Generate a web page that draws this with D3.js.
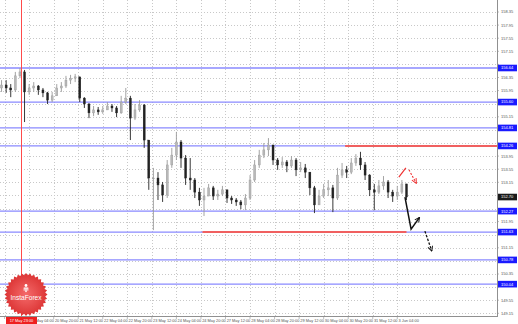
<!DOCTYPE html>
<html>
<head>
<meta charset="utf-8">
<script src="https://cdn.jsdelivr.net/npm/d3@7"></script>
<style>
  body { margin: 0; background: #fff; }
  svg { display: block; }
  text { font-family: "Liberation Sans", Arial, sans-serif; }
</style>
</head>
<body>
<svg id="chart" width="518" height="324"></svg>
<script>
"use strict";

// right price scale
var priceTicks = ["158.35","157.95","157.55","157.15","156.75","156.35","155.95","155.55",
                  "155.15","154.75","154.35","153.95","153.55","153.15","152.75","152.35",
                  "151.95","151.55","151.15","150.75","150.35","149.95","149.55","149.15"];
// time axis, one label every 16 hours starting 17 May 12:00
var timeLabels = ["17 May 12:00","20 May 04:00","20 May 20:00","21 May 12:00","22 May 04:00",
                  "22 May 20:00","23 May 12:00","24 May 04:00","24 May 20:00","27 May 12:00",
                  "28 May 04:00","28 May 20:00","29 May 12:00","30 May 04:00","30 May 20:00",
                  "31 May 12:00","3 Jun 04:00"];
var labelStep = 16;
var barHours = 3;

// candles (3 hour bars), open = previous close
var firstOpen = 156.03;
var closes = [156.12,156.03,155.97,156.40,156.52,155.91,156.03,156.09,155.97,155.88,
              155.66,155.79,156.03,156.09,156.27,156.33,156.37,155.72,155.54,155.27,
              155.36,155.30,155.36,155.48,155.42,155.27,155.60,155.72,155.11,155.36,
              155.51,154.44,153.28,153.28,153.07,152.76,153.68,153.98,154.38,153.89,
              153.28,153.22,152.85,152.61,152.73,152.98,152.73,152.79,152.92,152.67,
              152.61,152.55,152.46,152.67,153.22,153.68,153.98,154.14,154.29,153.83,
              153.68,153.77,153.65,153.83,153.53,153.59,153.46,152.98,152.46,152.73,
              152.92,152.98,152.67,153.37,153.53,153.46,153.74,153.89,153.68,153.37,
              152.92,152.85,153.04,153.16,152.85,152.73,152.85,153.10,152.70];
var highs  = [156.27,156.27,156.15,156.52,156.64,156.58,156.15,156.21,156.12,156.03,
              155.91,155.91,156.15,156.21,156.40,156.43,156.46,156.33,155.75,155.57,
              155.48,155.45,155.48,155.60,155.54,155.48,155.79,156.03,155.79,155.54,
              155.66,155.54,154.44,153.59,153.46,153.16,153.83,154.20,154.69,154.44,
              153.98,153.89,153.28,152.98,152.98,153.10,153.04,152.92,153.04,152.92,
              152.73,152.67,152.61,152.79,153.37,153.83,154.14,154.35,154.50,154.29,
              153.89,153.92,153.83,153.95,153.89,153.77,153.71,153.46,153.04,152.92,
              153.10,153.22,153.07,153.59,153.74,153.65,153.89,154.01,154.08,153.77,
              153.40,153.10,153.22,153.34,153.22,152.92,153.04,153.22,153.10];
var lows   = [155.91,155.88,155.75,155.91,156.33,154.99,155.82,155.91,155.82,155.75,
              155.54,155.60,155.79,155.91,156.03,156.15,156.21,155.60,155.42,155.11,
              155.17,155.21,155.24,155.36,155.30,155.14,155.24,155.54,154.44,155.05,
              155.30,154.20,152.92,151.69,152.61,152.55,152.67,153.59,153.83,153.59,
              153.07,152.92,152.67,152.43,152.12,152.73,152.61,152.61,152.73,152.52,
              152.49,152.43,152.33,152.30,152.61,153.16,153.59,153.89,153.95,153.68,
              153.53,153.59,153.46,153.59,153.34,153.46,153.28,152.76,152.21,152.46,
              152.67,152.73,152.24,152.61,153.28,153.28,153.40,153.65,153.53,153.22,
              152.73,152.30,152.79,152.92,152.67,152.55,152.61,152.79,152.61];

// support / resistance levels
var blueLevels = [156.64, 155.60, 154.81, 154.26, 152.27, 151.63, 150.78, 150.04];
var redLevels = [{ price: 154.26, from: 222, to: 321 }, { price: 151.63, from: 129, to: 262 }];
var lastPrice = 152.70;
var markerHour = 11, markerLabel = "17 May 23:00";

// forecast arrows (hour, price)
var blackPath = [[261, 152.70], [265, 151.72], [270.5, 152.08]];
var blackDash = [[274, 151.66], [278.5, 151.05]];
var redPath = [[257, 153.31], [261.6, 153.59]];
var redDash = [[263.6, 153.53], [268.4, 153.12]];

var plotW = 497, plotH = 316;
var svg = d3.select("#chart");

var x = d3.scaleLinear().domain([-3, 321]).range([0, plotW]);
var y = d3.scaleLinear().domain([149.15, 158.35]).range([313.3, 12]);

var defs = svg.append("defs");
defs.append("clipPath").attr("id", "plotclip")
    .append("rect").attr("width", plotW).attr("height", plotH);

// grid
var grid = svg.append("g").attr("clip-path", "url(#plotclip)");
grid.selectAll("line.hg").data(priceTicks).enter().append("line")
    .attr("x1", 0).attr("x2", plotW)
    .attr("y1", function (d) { return Math.round(y(+d)) + 0.5; })
    .attr("y2", function (d) { return Math.round(y(+d)) + 0.5; })
    .style("stroke", "#c8c8c8").style("stroke-dasharray", "1,2");
grid.selectAll("line.vg").data(timeLabels).enter().append("line")
    .attr("x1", function (d, i) { return Math.round(x(i * labelStep)) + 0.5; })
    .attr("x2", function (d, i) { return Math.round(x(i * labelStep)) + 0.5; })
    .attr("y1", 0).attr("y2", plotH)
    .style("stroke", "#c8c8c8").style("stroke-dasharray", "1,2");

// levels
var lv = svg.append("g").attr("clip-path", "url(#plotclip)");
lv.selectAll("line.blue").data(blueLevels).enter().append("line")
    .attr("x1", 0).attr("x2", plotW)
    .attr("y1", function (d) { return y(d); }).attr("y2", function (d) { return y(d); })
    .style("stroke", "#8a8aff").style("stroke-width", 1.3);
lv.selectAll("line.red").data(redLevels).enter().append("line")
    .attr("x1", function (d) { return x(d.from); }).attr("x2", function (d) { return x(d.to); })
    .attr("y1", function (d) { return y(d.price); }).attr("y2", function (d) { return y(d.price); })
    .style("stroke", "#f06060").style("stroke-width", 2);

// vertical marker line
var mx = Math.round(x(markerHour)) + 0.5;
lv.append("line")
    .attr("x1", mx).attr("x2", mx)
    .attr("y1", 0).attr("y2", plotH)
    .style("stroke", "#ff4a4a").style("stroke-width", 1);

// candles
var bars = closes.map(function (c, i) {
    var o = i === 0 ? firstOpen : closes[i - 1];
    return { h: i * barHours - 2, o: o, c: c,
             hi: Math.max(highs[i], o, c), lo: Math.min(lows[i], o, c) };
});
var cg = svg.append("g").attr("clip-path", "url(#plotclip)");
var candle = cg.selectAll("g.candle").data(bars).enter().append("g");
candle.append("line")
    .attr("x1", function (d) { return x(d.h); }).attr("x2", function (d) { return x(d.h); })
    .attr("y1", function (d) { return y(d.hi); }).attr("y2", function (d) { return y(d.lo); })
    .style("stroke", function (d) { return d.c >= d.o ? "#9a9a9a" : "#222"; })
    .style("stroke-width", 0.9);
candle.append("rect")
    .attr("x", function (d) { return x(d.h) - 1; })
    .attr("width", 2)
    .attr("y", function (d) { return y(Math.max(d.o, d.c)); })
    .attr("height", function (d) { return Math.max(0.8, Math.abs(y(d.o) - y(d.c))); })
    .style("fill", function (d) { return d.c >= d.o ? "#b8b8b8" : "#222"; })
    .style("stroke", function (d) { return d.c >= d.o ? "#9a9a9a" : "#222"; })
    .style("stroke-width", 0.4);

// arrow markers
function addMarker(id, colour) {
    defs.append("marker")
        .attr("id", id)
        .attr("viewBox", "0 0 10 10")
        .attr("refX", "9")
        .attr("refY", "5")
        .attr("markerUnits", "userSpaceOnUse")
        .attr("markerWidth", "6")
        .attr("markerHeight", "6")
        .attr("orient", "auto")
        .append("path")
        .attr("d", "M 1 1 L 9 5 L 1 9")
        .style("fill", "none")
        .style("stroke", colour)
        .style("stroke-width", "1.6");
}
addMarker("headblack", "#111");
addMarker("headred", "#f03030");

var arrowLine = d3.line().x(function (d) { return x(d[0]); }).y(function (d) { return y(d[1]); });
var ag = svg.append("g");
ag.append("path").attr("d", arrowLine(blackPath)).attr("marker-end", "url(#headblack)")
    .style("fill", "none").style("stroke", "#111").style("stroke-width", 1.5);
ag.append("path").attr("d", arrowLine(blackDash)).attr("marker-end", "url(#headblack)")
    .style("fill", "none").style("stroke", "#111").style("stroke-width", 1.3)
    .style("stroke-dasharray", "2.5,1.5");
ag.append("path").attr("d", arrowLine(redPath))
    .style("fill", "none").style("stroke", "#f03030").style("stroke-width", 1.2);
ag.append("path").attr("d", arrowLine(redDash)).attr("marker-end", "url(#headred)")
    .style("fill", "none").style("stroke", "#f03030").style("stroke-width", 1.1)
    .style("stroke-dasharray", "2,1.5");

// axes frame
svg.append("line").attr("x1", plotW + 0.5).attr("x2", plotW + 0.5).attr("y1", 0).attr("y2", plotH + 1)
    .style("stroke", "#909090").style("stroke-width", 1);
svg.append("line").attr("x1", 0).attr("x2", plotW + 1).attr("y1", plotH + 0.5).attr("y2", plotH + 0.5)
    .style("stroke", "#909090").style("stroke-width", 1);

// price labels, those under a tag are hidden like on the terminal
var tagged = blueLevels.concat([lastPrice]);
var freeTicks = priceTicks.filter(function (d) {
    return tagged.every(function (p) { return Math.abs(y(p) - y(+d)) > 6.8; });
});
var pa = svg.append("g");
pa.selectAll("text").data(freeTicks).enter().append("text")
    .attr("x", 501).attr("y", function (d) { return y(+d) + 1.4; })
    .style("font-size", "4px").style("fill", "#555")
    .text(function (d) { return d; });
pa.selectAll("line").data(priceTicks).enter().append("line")
    .attr("x1", plotW).attr("x2", plotW + 2)
    .attr("y1", function (d) { return y(+d); }).attr("y2", function (d) { return y(+d); })
    .style("stroke", "#909090").style("stroke-width", 0.6);

function priceTag(p, colour) {
    var g = svg.append("g");
    g.append("rect").attr("x", plotW + 1).attr("y", y(p) - 3.3).attr("width", 19).attr("height", 6.6)
        .style("fill", colour);
    g.append("text").attr("x", 501).attr("y", y(p) + 1.4)
        .style("font-size", "4px").style("fill", "#fff")
        .text(p.toFixed(2));
}
blueLevels.forEach(function (p) { priceTag(p, "#1a1aff"); });
priceTag(lastPrice, "#1a1a1a");

// time labels; the marker tag hides what lies under it
var tagX0 = mx - 15.5, tagX1 = mx + 15.5;
defs.append("clipPath").attr("id", "timeclip")
    .append("rect").attr("x", tagX1).attr("y", plotH).attr("width", 518 - tagX1).attr("height", 10);
var ta = svg.append("g");
ta.selectAll("text").data(timeLabels).enter()
    .filter(function (d, i) { return x(i * labelStep) > tagX1 || x(i * labelStep) + 22 > tagX1; })
    .append("text")
    .attr("x", function (d) { return x(timeLabels.indexOf(d) * labelStep) + 1.2; })
    .attr("y", plotH + 5.6)
    .attr("clip-path", function (d) { return x(timeLabels.indexOf(d) * labelStep) < tagX1 ? "url(#timeclip)" : null; })
    .style("font-size", "3.9px").style("fill", "#555")
    .text(function (d) { return d; });
ta.selectAll("line").data(timeLabels).enter().append("line")
    .attr("x1", function (d, i) { return x(i * labelStep); })
    .attr("x2", function (d, i) { return x(i * labelStep); })
    .attr("y1", plotH).attr("y2", plotH + 3)
    .style("stroke", "#909090").style("stroke-width", 0.6);

// marker date tag
svg.append("rect").attr("x", tagX0).attr("y", plotH + 1).attr("width", tagX1 - tagX0).attr("height", 8)
    .style("fill", "#ee2020");
svg.append("text").attr("x", mx).attr("y", plotH + 5.6).attr("text-anchor", "middle")
    .style("font-size", "3.9px").style("fill", "#fff").text(markerLabel);

// InstaForex badge
var cx = 26, cy = 294.5;
var grad = defs.append("radialGradient").attr("id", "badge");
grad.append("stop").attr("offset", "0%").attr("stop-color", "#f46a6a");
grad.append("stop").attr("offset", "100%").attr("stop-color", "#dc3434");
var teeth = d3.range(64).map(function (k) {
    var a = k / 64 * Math.PI * 2, r = k % 2 === 0 ? 21.5 : 19.3;
    return [cx + r * Math.cos(a), cy + r * Math.sin(a)];
});
svg.append("path").attr("d", "M" + teeth.join("L") + "Z").style("fill", "url(#badge)");
var icon = svg.append("g").style("fill", "#fff");
icon.append("circle").attr("cx", cx).attr("cy", 285.5).attr("r", 1.4);
icon.append("rect").attr("x", cx - 2.3).attr("y", 287.5).attr("width", 4.6).attr("height", 1.2);
icon.append("rect").attr("x", cx - 0.7).attr("y", 288.5).attr("width", 1.4).attr("height", 3.6);
icon.append("rect").attr("x", cx - 2.3).attr("y", 288.5).attr("width", 0.9).attr("height", 2.2);
icon.append("rect").attr("x", cx + 1.4).attr("y", 288.5).attr("width", 0.9).attr("height", 2.2);
svg.append("text").attr("x", cx).attr("y", 299.5).attr("text-anchor", "middle")
    .style("font-size", "6.6px").style("fill", "#fff").text("InstaForex");
</script>
</body>
</html>
